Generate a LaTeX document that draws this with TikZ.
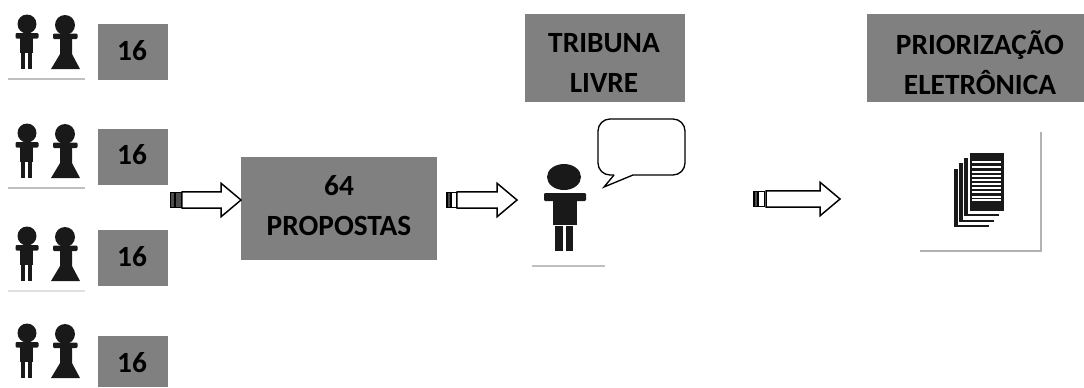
\documentclass[tikz,border=0pt]{standalone}
\usepackage{fontspec}
\setmainfont{Carlito}
\usetikzlibrary{positioning}
\usetikzlibrary{shapes.arrows}
\tikzset{
  graybox/.style={fill=boxgray,inner sep=0pt,outer sep=0pt},
  boxtext/.style={font=\fontsize{22}{30}\selectfont\bfseries,align=center,inner sep=0pt,text=black},
  blockarrow/.style={draw=black,fill=white,line width=1.1pt,single arrow,inner sep=0pt,outer sep=0pt,
    text height=11pt,text depth=0pt,minimum width=24pt,minimum height=#1,
    single arrow head extend=6.5pt,single arrow tip angle=80},
  tailbar/.style={draw=black,line width=0.9pt,inner sep=0pt,outer sep=0pt,minimum height=11.5pt},
  baseline rule/.style={draw=black!25,line width=1.2pt},
  figure ink/.style={fill=black!90,draw=none},
  couple/.pic={
    % man
    \fill[figure ink] (27,24) circle (9.5);
    \fill[figure ink,rounded corners=0.8pt] (15.5,33) rectangle (38.5,38.5);
    \fill[figure ink] (20,38) rectangle (33,53);
    \fill[figure ink] (21,52) rectangle (25,69);
    \fill[figure ink] (27.5,52) rectangle (32,69);
    % woman
    \fill[figure ink] (65,25) circle (10);
    \fill[figure ink,rounded corners=0.8pt] (53,33.5) rectangle (77.5,39);
    \fill[figure ink] (60,38) -- (72,38) -- (72,54) -- (80,69) -- (51,69) -- (60,54) -- cycle;
  },
}
\definecolor{boxgray}{HTML}{808080}
\begin{document}
\begin{tikzpicture}[x=0.75pt,y=-0.75pt]
\useasboundingbox (0,0) rectangle (1084,387);

% couples on the left
\pic (couplea) at (0,0) {couple};
\pic (coupleb) at (0,109) {couple};
\pic (couplec) at (0,212) {couple};
\pic (coupled) at (0,309) {couple};
\draw[baseline rule] (8,79) -- (85,79);
\draw[baseline rule] (8,188) -- (85,188);
\draw[baseline rule,draw=black!12] (8,291) -- (85,291);

% gray boxes
\node [graybox,minimum width=52.5pt,minimum height=42pt] (boxa) at (133,52) {};
\node [graybox,minimum width=52.5pt,minimum height=42pt] (boxb) at (133,157) {};
\node [graybox,minimum width=52.5pt,minimum height=42pt] (boxc) at (133,258) {};
\node [graybox,minimum width=52.5pt,minimum height=38.25pt] (boxd) at (133,361.5) {};
\node [graybox,minimum width=147pt,minimum height=77.25pt] (propostas) at (339,208.5) {};
\node [graybox,minimum width=120pt,minimum height=66pt] (tribuna) at (605,58) {};
\node [graybox,minimum width=162.75pt,minimum height=66pt] (priorizacao) at (975.5,58) {};

\node [boxtext] (texta) at (132,50.5) {16};
\node [boxtext] (textb) at (132,155) {16};
\node [boxtext] (textc) at (132,257) {16};
\node [boxtext] (textd) at (132,363) {16};
\node [boxtext] (textprop) at (339,206) {64\\PROPOSTAS};
\node [boxtext] (texttrib) at (604,63) {TRIBUNA\\LIVRE};
\node [boxtext] (textprio) at (980,63) {PRIORIZAÇÃO\\ELETRÔNICA};

% arrows
\node [blockarrow=44.25pt,anchor=west] (arrowa) at (182,200) {};
\node [tailbar,fill=black!70,minimum width=4.5pt,left=0.5pt of arrowa.west] (taila) {};
\node [tailbar,fill=black!70,minimum width=3pt,left=0.5pt of taila] (tailaa) {};
\node [blockarrow=45pt,anchor=west] (arrowb) at (457,200) {};
\node [tailbar,fill=white,minimum width=3.5pt,left=0.5pt of arrowb.west] (tailb) {};
\node [tailbar,fill=black!70,minimum width=3pt,left=0.5pt of tailb] (tailbb) {};
\node [blockarrow=55.5pt,anchor=west] (arrowc) at (766,199) {};
\node [tailbar,fill=white,minimum width=5pt,left=1pt of arrowc.west] (tailc) {};
\node [tailbar,fill=black!70,minimum width=2.5pt,left=0.5pt of tailc] (tailcc) {};

% speaker
\fill[figure ink] (564,177) ellipse (17 and 13);
\fill[figure ink,rounded corners=0.8pt] (544,193) rectangle (586,201);
\fill[figure ink] (553,200) rectangle (577,225);
\fill[figure ink] (555,226) rectangle (563,251);
\fill[figure ink] (566,226) rectangle (573,251);
\draw[baseline rule] (532,266) -- (605,266);

% speech bubble
\draw[black,line width=1pt,fill=white,rounded corners=9pt]
  (614,175) -- (598,175) -- (598,119) -- (685,119) -- (685,175) -- (633,175);
\draw[black,line width=1pt,fill=white,line join=miter] (614,175) -- (604,187) -- (633,175);

% stack of sheets
\fill[figure ink] (954,169) rectangle (989,227);
\fill[white] (957.5,167) rectangle (994,224.5);
\fill[figure ink] (959,163) rectangle (994,222);
\fill[white] (962.5,161) rectangle (999,219.5);
\fill[figure ink] (964,158) rectangle (999,216);
\fill[white] (967.5,156) rectangle (1004,213.5);
\fill[figure ink] (970,153) rectangle (1004,211);
\foreach \liney in {162,167,172,176,180,184,188,192,197,200}
  \draw[white,line width=0.9pt] (972,\liney) -- (1001,\liney);
\draw[baseline rule,draw=black!30] (1041,132) -- (1041,251) -- (920,251);
\end{tikzpicture}
\end{document}
